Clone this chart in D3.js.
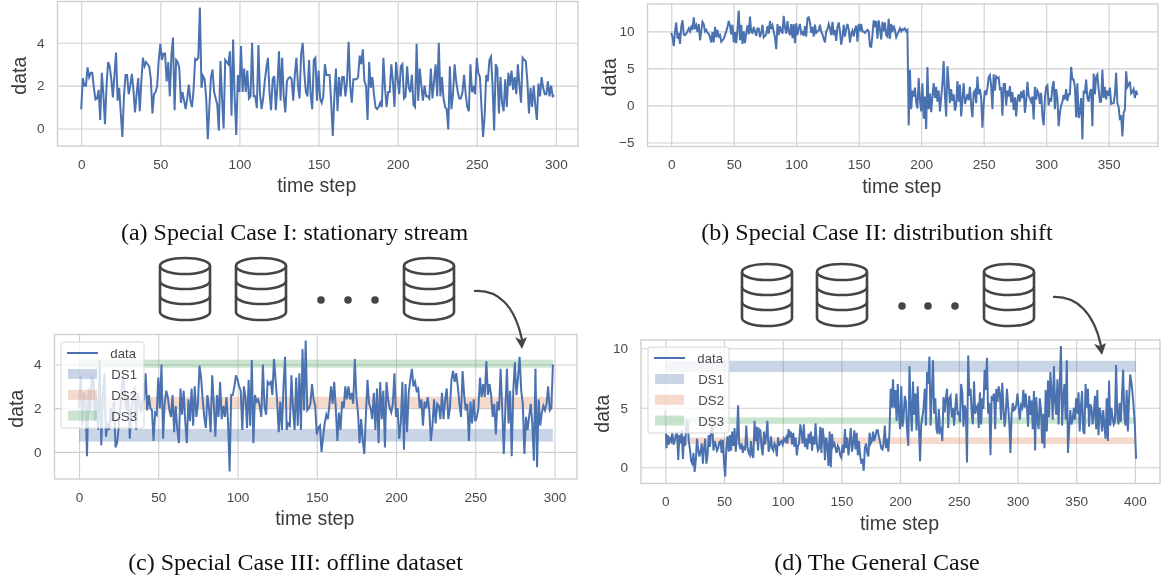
<!DOCTYPE html>
<html>
<head>
<meta charset="utf-8">
<script src="https://cdn.jsdelivr.net/npm/d3@7"></script>
<style>
  html, body { margin: 0; padding: 0; background: #fff; }
  svg { display: block; }
</style>
</head>
<body>
<svg id="fig" width="1161" height="582"></svg>
<script>
// values
const seriesA = [0.9,2.35,2.0,2.0,2.85,2.4,2.6,2.6,1.9,1.35,1.4,1.8,0.4,2.6,1.6,0.2,2.0,3.1,2.9,2.3,
  1.45,2.5,3.55,1.3,1.9,0.7,-0.4,1.5,2.5,2.5,1.6,2.0,2.55,1.8,0.75,1.6,2.35,0.8,2.2,3.3,
  2.9,3.1,3.0,2.9,2.3,0.7,1.6,1.7,2.0,3.2,3.95,3.2,3.5,3.5,2.2,3.1,1.5,3.4,4.25,0.85,
  3.2,3.1,2.8,1.2,1.7,1.3,0.9,1.4,2.05,1.3,1.0,1.8,3.25,3.2,3.3,5.65,1.9,2.45,2.3,1.4,
  -0.5,1.0,2.4,2.75,1.7,1.4,1.1,-0.1,3.15,1.4,0.0,3.2,3.1,3.0,3.6,0.6,4.15,1.4,-0.3,2.5,
  1.7,3.85,1.7,2.8,1.7,2.7,1.4,1.5,4.0,1.5,1.5,0.95,3.9,1.6,0.9,1.4,2.2,2.8,3.3,1.7,
  0.85,2.3,2.45,0.85,2.0,3.6,1.3,3.3,1.5,0.75,2.2,2.35,2.4,2.3,1.3,2.5,3.3,2.0,1.4,3.5,
  4.0,2.6,1.7,1.5,3.2,1.6,0.9,3.2,3.3,1.3,2.7,1.4,1.2,1.5,3.0,2.5,2.5,2.5,1.2,-0.35,
  1.5,2.8,0.8,2.4,1.5,2.4,2.4,1.5,2.2,4.05,2.0,1.2,2.3,2.3,2.3,2.4,3.4,3.0,3.7,2.2,
  2.0,0.4,3.1,1.9,2.4,1.6,1.0,0.9,1.0,1.2,1.0,3.3,1.9,1.0,1.7,1.7,3.0,2.2,1.0,3.1,
  2.3,1.6,2.9,3.0,1.4,1.5,2.9,1.9,1.7,2.5,1.1,1.0,3.95,1.3,2.8,2.0,1.3,2.0,1.5,1.5,
  1.4,2.8,1.4,2.2,3.0,1.5,4.0,1.5,2.4,1.4,1.0,0.9,-0.05,2.9,0.9,1.6,3.0,2.2,1.7,1.4,
  1.4,1.7,2.5,1.6,1.0,0.8,3.0,1.7,1.9,1.6,3.3,2.6,2.4,1.0,-0.4,0.6,2.5,2.2,3.2,3.35,
  2.0,-0.1,3.0,2.8,0.7,2.4,1.2,0.8,2.3,1.0,2.6,2.0,2.7,1.8,2.4,1.6,3.0,2.0,1.2,3.3,
  3.2,3.15,2.2,0.7,1.9,1.0,2.0,1.1,0.4,2.1,1.5,2.4,1.9,1.6,1.6,2.2,1.5,2.0,1.5,1.55];

const seriesB = [9.8,9.2,8.0,10.0,11.2,9.0,9.8,8.3,10.6,11.5,9.6,9.5,9.7,10.0,10.4,10.0,10.6,10.2,11.9,10.3,
  10.8,9.9,11.0,8.8,10.0,11.3,11.0,10.0,10.2,9.8,9.7,9.2,8.5,9.9,8.5,10.6,9.2,10.2,9.3,9.5,
  8.6,8.8,9.0,9.5,10.0,10.6,11.4,10.8,9.6,10.9,8.5,9.9,8.4,10.3,12.8,8.8,10.9,8.3,10.0,8.4,
  9.8,10.8,9.6,12.0,9.9,9.8,10.6,10.0,9.4,10.4,10.4,9.2,9.8,10.9,9.2,9.4,9.6,10.7,9.7,11.4,
  10.3,10.8,10.0,9.2,7.6,11.0,9.5,10.7,10.1,9.7,12.1,10.5,9.7,11.4,10.0,9.5,11.0,9.1,11.0,8.4,
  11.1,9.5,10.4,11.0,9.7,9.9,9.4,10.7,9.3,11.8,11.9,11.2,9.8,10.6,9.3,10.9,9.8,10.0,10.1,10.9,
  10.0,9.6,9.0,8.5,10.0,10.3,11.0,10.4,9.5,11.3,9.5,10.2,8.7,10.6,11.2,10.0,8.2,9.2,10.9,9.3,
  10.3,11.0,10.3,8.5,9.7,10.1,9.3,10.3,10.8,8.6,11.0,10.0,11.0,10.0,10.0,9.8,10.0,10.2,10.0,8.0,
  7.9,9.5,11.5,10.6,11.4,9.0,11.5,10.3,8.9,11.3,10.0,11.2,9.5,9.3,11.7,9.0,11.0,9.9,10.8,10.2,
  9.2,9.6,10.0,10.4,10.0,10.3,10.2,10.4,10.0,10.2,-2.7,4.8,-0.5,2.0,1.2,2.4,0.4,-0.4,3.7,0.8,
  -0.8,3.0,-1.8,1.2,-3.2,5.2,-0.5,1.6,-0.9,1.2,3.0,1.0,2.5,0.5,2.0,
  -0.8,1.0,3.0,6.0,1.2,-1.5,5.3,3.0,0.3,2.2,0.6,1.5,-0.7,0.0,3.3,0.5,2.8,-1.5,1.0,3.0,
  0.2,0.8,1.5,0.7,2.5,0.0,-1.6,1.7,2.0,0.3,3.9,1.5,2.2,1.0,-3.0,0.2,2.0,1.4,
  2.4,3.8,4.1,2.6,-0.5,4.2,2.0,3.9,3.7,3.8,2.2,2.3,-1.4,2.9,2.9,0.0,2.0,1.2,2.6,0.4,1.8,-0.6,1.1,
  -1.5,0.8,1.5,0.5,1.9,1.0,2.1,-1.0,0.6,3.2,1.3,0.9,0.5,1.2,-1.9,2.5,0.8,2.0,1.6,0.2,
  1.7,-1.5,-2.7,1.0,2.5,2.7,0.0,1.0,0.5,2.5,3.3,-0.5,2.2,1.0,-2.8,-1.0,0.0,0.5,1.4,0.8,2.2,0.6,1.5,
  1.5,5.2,3.5,3.5,2.5,-1.6,3.0,-1.7,-1.0,1.0,-4.6,2.0,1.6,3.5,1.0,0.5,1.8,2.2,-2.8,4.3,
  1.5,3.9,4.2,2.2,0.5,0.5,4.8,1.0,2.5,0.8,2.0,1.3,2.4,0.2,0.3,0.3,1.5,4.4,0.3,-0.2,
  -2.0,-1.3,-4.2,-1.0,-0.6,4.6,2.5,2.8,3.2,1.6,1.8,2.2,1.0,2.0,1.4];

const seriesC = [2.0,3.5,1.2,2.7,2.5,-0.2,2.9,1.8,3.4,3.3,1.4,2.4,1.0,4.2,0.3,2.5,3.6,0.7,1.3,1.0,
  2.0,1.4,2.3,0.2,0.4,1.1,1.9,3.0,3.5,2.5,1.9,2.6,0.6,1.9,2.4,3.0,1.0,2.7,2.2,1.8,
  2.3,2.4,3.6,1.9,2.6,2.0,1.9,0.5,1.8,1.7,3.4,2.0,4.0,0.6,2.2,2.8,2.5,1.9,1.6,2.6,
  0.9,2.1,1.0,0.4,2.9,1.7,2.8,1.4,0.4,2.4,1.4,2.9,1.2,3.0,1.6,2.2,3.95,3.4,2.4,1.6,
  1.1,2.6,2.0,0.9,3.5,2.2,0.7,2.6,1.6,3.2,1.5,2.1,1.6,2.5,1.4,-0.9,2.6,2.6,3.0,3.5,
  3.3,3.0,2.8,1.0,3.0,2.5,1.1,3.3,1.2,4.2,0.4,2.6,2.3,2.4,2.1,1.6,4.0,2.1,1.7,3.2,
  3.1,3.2,2.6,4.25,3.3,2.3,0.9,2.3,1.0,3.0,4.35,1.0,1.3,1.2,3.5,2.0,1.0,3.4,1.2,3.6,
  1.0,4.7,1.9,5.1,1.9,2.0,2.2,3.1,2.4,2.1,0.8,1.1,1.2,0.0,0.7,1.3,1.7,1.5,2.2,3.0,
  2.2,3.2,2.0,0.5,1.8,1.0,2.3,2.0,3.0,2.4,3.0,2.4,2.7,2.2,4.25,2.5,1.8,0.4,1.5,0.5,
  -0.1,1.7,3.3,2.2,2.0,1.5,2.7,1.0,2.9,0.4,3.2,1.5,2.8,0.2,3.2,2.4,2.0,1.8,2.2,3.6,
  1.6,2.0,0.6,1.3,3.2,0.1,3.1,0.9,2.7,3.3,3.8,3.0,3.2,2.8,2.9,2.0,2.4,1.2,2.3,2.0,
  2.5,1.9,0.5,1.2,2.4,1.3,2.2,2.1,1.5,2.7,1.5,2.4,2.9,1.5,2.0,3.3,3.7,3.2,
  3.6,3.0,2.2,1.6,3.7,2.6,1.9,2.2,0.5,2.3,1.3,2.4,1.4,1.6,2.0,3.4,
  2.5,3.1,2.5,4.15,2.6,3.1,2.6,1.6,2.2,0.8,2.3,1.9,3.8,2.0,-0.1,2.0,3.8,1.3,2.8,
  -0.2,2.8,4.1,2.6,3.4,4.35,2.8,2.2,-0.1,1.6,1.0,1.6,2.2,1.3,-0.4,3.8,-0.7,2.4,1.2,1.8,
  2.1,1.9,2.2,3.0,1.9,2.0,4.0];

const seriesD = [4.8,1.6,2.7,1.9,2.4,2.2,3.0,1.9,2.2,2.7,3.0,0.6,2.7,2.0,3.1,0.7,2.6,1.8,3.9,3.9,
  2.2,1.5,0.5,0.3,1.2,-0.4,0.6,2.4,1.5,0.9,1.3,2.0,0.3,1.6,2.4,0.3,1.0,2.7,1.7,3.0,
  3.6,1.4,2.2,1.9,1.4,1.6,2.1,2.2,1.2,2.3,0.4,-0.8,1.6,2.6,1.3,2.7,1.4,3.0,1.8,3.3,
  1.3,2.5,5.2,1.9,1.5,2.0,1.2,1.8,1.4,3.5,1.7,1.2,1.0,2.2,1.0,0.8,3.9,2.2,3.4,1.4,
  3.2,3.1,1.6,1.0,3.0,1.9,2.7,3.9,1.3,1.7,2.6,1.6,1.4,2.0,1.8,0.9,2.5,1.8,2.1,2.2,
  1.9,2.4,2.2,2.5,2.0,3.2,2.5,3.0,1.9,2.9,1.7,2.5,1.0,1.8,2.0,3.6,2.9,2.0,3.6,1.7,
  2.4,1.5,2.8,2.0,3.0,1.4,2.6,1.9,
  3.7,2.0,1.4,1.6,3.4,1.2,3.3,2.5,0.6,2.5,1.9,0.1,3.0,0.0,2.8,1.8,2.0,1.6,1.2,1.8,
  1.6,1.0,0.8,1.9,1.2,3.2,1.6,2.5,1.0,2.0,3.3,1.3,2.0,3.1,1.5,2.9,1.0,2.2,1.0,0.3,
  0.7,-0.3,1.6,2.0,1.2,0.9,2.9,2.0,2.2,3.0,2.2,2.6,3.1,3.1,2.5,2.1,1.6,1.5,2.0,3.5,1.6,2.4,1.3,
  3.0,6.6,5.0,7.4,5.0,6.5,3.9,7.0,4.5,3.2,6.8,3.4,4.2,6.0,5.5,3.0,1.8,8.5,5.0,3.0,
  7.2,4.4,6.2,3.1,6.8,3.6,0.5,3.6,4.2,5.0,6.6,3.5,8.0,7.0,9.3,3.5,6.2,9.0,4.5,5.8,3.2,2.8,4.9,
  3.0,3.2,2.2,5.9,4.6,5.8,6.6,3.3,5.8,6.0,4.2,5.0,3.5,5.0,6.2,4.4,4.7,3.8,7.0,6.3,3.4,5.2,4.8,0.4,
  9.4,6.0,6.6,4.5,3.6,7.2,4.5,5.0,5.2,3.3,6.3,3.6,5.8,4.9,8.2,6.5,9.2,4.5,5.4,1.0,6.0,5.8,
  6.2,3.2,6.6,5.5,6.8,6.2,4.0,7.1,5.0,3.4,4.4,6.6,5.2,3.8,1.2,4.5,5.4,4.8,4.9,5.3,6.2,5.0,4.0,5.2,5.0,
  6.5,5.0,6.2,5.0,3.4,6.0,4.4,5.6,3.2,6.4,1.4,5.9,4.0,3.2,5.8,4.8,2.0,4.5,1.6,6.5,3.0,7.3,4.2,8.0,6.5,4.0,
  8.5,5.5,4.4,7.4,3.6,6.8,10.2,3.5,5.8,7.0,4.0,9.0,1.2,3.2,4.8,3.6,4.0,5.0,4.0,5.8,4.5,6.3,3.0,5.0,
  6.4,3.0,2.8,7.0,5.0,6.6,3.4,5.3,5.0,3.6,4.5,6.0,3.2,6.5,2.7,5.0,4.4,3.0,4.8,3.5,
  2.4,5.8,2.2,7.3,3.5,5.0,4.2,3.6,3.8,8.6,4.4,3.6,5.4,3.8,6.0,8.2,4.4,3.5,6.5,3.0,
  5.6,7.8,7.2,6.2,5.0,3.5,0.7];

const bandsC = [[0.47, 1.05], [2.0, 2.52], [3.85, 4.22]];
const bandsD = [[8.0, 8.95], [1.95, 2.5], [3.65, 4.2]];
const bandNames = ["DS1", "DS2", "DS3"];
const bandColors = ["#4c72b0", "#dd8452", "#55a868"];
const lineColor = "#4c72b0";
const gridColor = "#cfcfcf";

const captions = [
  "(a) Special Case I: stationary stream",
  "(b) Special Case II: distribution shift",
  "(c) Special Case III: offline dataset",
  "(d) The General Case"
];

const svg = d3.select("#fig");
const defs = svg.append("defs");
// the reference is a slightly soft raster
defs.append("filter").attr("id", "soft")
  .append("feGaussianBlur").attr("stdDeviation", 0.45);

function panel(o) {
  const g = svg.append("g").attr("filter", "url(#soft)");
  const x = d3.scaleLinear().domain(o.xDomain).range([o.left, o.right]);
  const y = d3.scaleLinear().domain(o.yDomain).range([o.bottom, o.top]);

  g.append("g").attr("transform", `translate(0,${o.bottom})`)
    .call(d3.axisBottom(x).tickValues(o.xTicks).tickSize(o.top - o.bottom).tickPadding(13).tickFormat(d3.format("d")))
    .call(a => a.select(".domain").remove());
  g.append("g").attr("transform", `translate(${o.left},0)`)
    .call(d3.axisLeft(y).tickValues(o.yTicks).tickSize(o.left - o.right).tickPadding(13).tickFormat(d3.format("d")))
    .call(a => a.select(".domain").remove());
  g.selectAll(".tick line").attr("stroke", gridColor).attr("stroke-width", 1.1);
  g.selectAll(".tick text").attr("fill", "#4a4a4a")
    .style("font-family", "Liberation Sans").style("font-size", "13.6px");

  g.append("rect").attr("x", o.left).attr("y", o.top)
    .attr("width", o.right - o.left).attr("height", o.bottom - o.top)
    .attr("fill", "none").attr("stroke", gridColor).attr("stroke-width", 1.4);

  (o.bands || []).forEach((b, i) => {
    g.append("rect").attr("x", x(0)).attr("width", x(o.data.length - 1) - x(0))
      .attr("y", y(b[1])).attr("height", y(b[0]) - y(b[1]))
      .attr("fill", bandColors[i]).attr("opacity", 0.3);
  });

  const line = d3.line().x((d, i) => x(i)).y(d => y(d));
  g.append("path").datum(o.data).attr("d", line)
    .attr("fill", "none").attr("stroke", lineColor).attr("stroke-width", 2);

  if (o.legend) legend(g, o.legend);

  g.append("text").attr("x", (o.left + o.right) / 2 - 1).attr("y", o.bottom + 46)
    .attr("text-anchor", "middle").attr("fill", "#3a3a3a")
    .style("font-family", "Liberation Sans").style("font-size", "19.5px").text("time step");
  g.append("text").attr("transform", `translate(${o.left - 32},${(o.top + o.bottom) / 2 + 2}) rotate(-90)`)
    .attr("text-anchor", "middle").attr("fill", "#3a3a3a")
    .style("font-family", "Liberation Sans").style("font-size", "19.5px").text("data");
}

function legend(g, l) {
  g.append("rect").attr("x", l.x).attr("y", l.y).attr("width", l.w).attr("height", l.h).attr("rx", 2)
    .attr("fill", "#fff").attr("fill-opacity", 0.8).attr("stroke", "#d6d6d6");
  const font = s => s.style("font-family", "Liberation Sans").style("font-size", "13.2px").attr("fill", "#4a4a4a");
  g.append("line").attr("x1", l.x + 6).attr("x2", l.x + 37).attr("y1", l.y + 11).attr("y2", l.y + 11)
    .attr("stroke", lineColor).attr("stroke-width", 2);
  g.append("text").attr("x", l.x + 75).attr("y", l.y + 16).attr("text-anchor", "end").call(font).text("data");
  bandNames.forEach((n, i) => {
    const cy = l.y + 32 + i * 20.8;
    g.append("rect").attr("x", l.x + 7).attr("y", cy - 5).attr("width", 29).attr("height", 10)
      .attr("fill", bandColors[i]).attr("opacity", 0.3);
    g.append("text").attr("x", l.x + 76).attr("y", cy + 5).attr("text-anchor", "end").call(font).text(n);
  });
}

function dbIcon(g, px, py) {
  const w = 52, rx = 25, ry = 8;
  const cx = px + w / 2;
  const s = g.append("g").attr("fill", "none").attr("stroke", "#444").attr("stroke-width", 2.6);
  s.append("ellipse").attr("cx", cx).attr("cy", py + ry).attr("rx", rx).attr("ry", ry);
  s.append("path").attr("d", `M${cx - rx},${py + ry}V${py + 54}A${rx},${ry} 0 0 0 ${cx + rx},${py + 54}V${py + ry}`);
  [23, 38].forEach(dy => {
    s.append("path").attr("d", `M${cx - rx},${py + dy}A${rx},${ry} 0 0 0 ${cx + rx},${py + dy}`);
  });
}

function decor(icons, dots, dotY, arrow) {
  const g = svg.append("g").attr("filter", "url(#soft)");
  icons.forEach(p => dbIcon(g, p[0], p[1]));
  dots.forEach(d => g.append("circle").attr("cx", d).attr("cy", dotY).attr("r", 3.8).attr("fill", "#444"));
  g.append("path").attr("d", arrow.d).attr("fill", "none").attr("stroke", "#444").attr("stroke-width", 2.2);
  g.append("path").attr("d", arrow.head).attr("fill", "#444");
}

panel({ data: seriesA, left: 57.5, right: 578, top: 1.5, bottom: 146,
  xDomain: [-15, 314], yDomain: [-0.82, 5.93], xTicks: d3.range(0, 301, 50), yTicks: [0, 2, 4] });
panel({ data: seriesB, left: 647.5, right: 1158, top: 4, bottom: 146.5,
  xDomain: [-19, 389.5], yDomain: [-5.55, 13.7], xTicks: d3.range(0, 351, 50), yTicks: [-5, 0, 5, 10] });
panel({ data: seriesC, left: 54.5, right: 577, top: 334.5, bottom: 479,
  xDomain: [-15.5, 314.2], yDomain: [-1.24, 5.37], xTicks: d3.range(0, 301, 50), yTicks: [0, 2, 4],
  bands: bandsC, legend: { x: 61, y: 342, w: 83, h: 86 } });
panel({ data: seriesD, left: 641, right: 1160, top: 340, bottom: 483.5,
  xDomain: [-20.7, 421.4], yDomain: [-1.37, 10.7], xTicks: d3.range(0, 401, 50), yTicks: [0, 5, 10],
  bands: bandsD, legend: { x: 648, y: 347, w: 81, h: 86 } });

decor([[159, 258], [235, 258], [403, 258]], [321, 348, 375], 300,
  { d: "M474,291C498,289 515,306 522,340", head: "M515,337L522,349L527,337L521,340Z" });
decor([[741, 264], [816, 264], [983, 264]], [902, 928, 955], 306,
  { d: "M1053,297C1077,296 1094,313 1101,346", head: "M1094,344L1102,355L1106,343L1100,346Z" });

const capPos = [[294.5, 240], [877, 240], [295.5, 570], [877, 570]];
captions.forEach((c, i) => {
  svg.append("text").attr("x", capPos[i][0]).attr("y", capPos[i][1]).attr("text-anchor", "middle")
    .attr("fill", "#111").style("font-family", "Liberation Serif").style("font-size", "24px").text(c);
});
</script>
</body>
</html>
